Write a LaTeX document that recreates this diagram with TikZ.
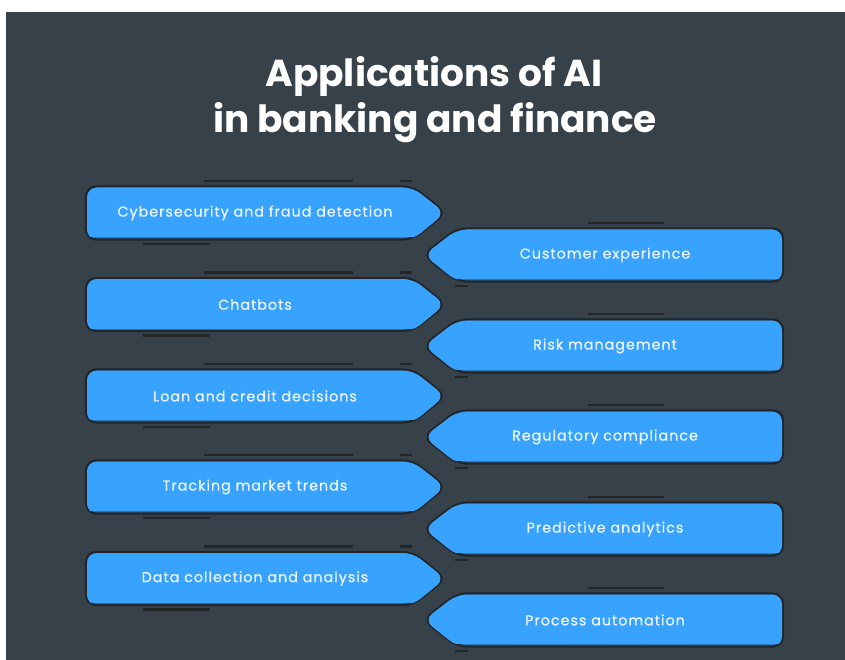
\documentclass[tikz,border=0pt]{standalone}
\usepackage{fontspec}
\setmainfont{Poppins}
\newfontfamily\boxfont[LetterSpace=7,FakeBold=0.6]{Poppins}
\definecolor{bgc}{RGB}{54,65,74}
\definecolor{bluec}{RGB}{56,162,255}
\definecolor{bluedk}{RGB}{44,118,186}
\definecolor{outc}{RGB}{34,38,41}
\definecolor{txtc}{RGB}{236,245,255}
\tikzset{
  boxout/.style={draw=outc, line width=2.2pt, fill=bluedk, line join=round},
  boxin/.style={fill=bluec},
  deco/.style={draw=outc, line width=2.8pt},
  boxtext/.style={font=\boxfont\fontsize{14.3}{16}\selectfont, text=txtc, inner sep=0pt},
  titletext/.style={font=\fontsize{37.5}{42}\selectfont\bfseries, text=white, inner sep=0pt, anchor=base}
}
% left box: #1 name, #2 centre y, #3 text
\newcommand\leftbox[3]{%
  \path[boxout, rounded corners=10pt] (413,{#2-26.5}) -- (86,{#2-26.5}) -- (86,{#2+26.5}) -- (413,{#2+26.5}) -- (446,#2) -- cycle;
  \begin{scope}
    \clip (80,{#2-30}) rectangle (450,{#2+23.5});
    \path[boxin, rounded corners=10pt] (413,{#2-25.5}) -- (87,{#2-25.5}) -- (87,{#2+26.5}) -- (413,{#2+26.5}) -- (445,#2) -- cycle;
  \end{scope}
  \draw[deco] (204,{#2-32}) -- (353,{#2-32});
  \draw[deco] (400,{#2-32}) -- (412,{#2-32});
  \draw[deco] (143,{#2+31}) -- (210,{#2+31});
  \node[boxtext] (#1) at (255,#2) {#3};
}
% right box
\newcommand\rightbox[3]{%
  \path[boxout, rounded corners=10pt] (457,{#2-26.5}) -- (783,{#2-26.5}) -- (783,{#2+26.5}) -- (457,{#2+26.5}) -- (423,#2) -- cycle;
  \begin{scope}
    \clip (418,{#2-30}) rectangle (790,{#2+23.5});
    \path[boxin, rounded corners=10pt] (457,{#2-25.5}) -- (782,{#2-25.5}) -- (782,{#2+26.5}) -- (457,{#2+26.5}) -- (424,#2) -- cycle;
  \end{scope}
  \draw[deco] (588,{#2-32}) -- (664,{#2-32});
  \draw[deco] (455,{#2+31}) -- (468,{#2+31});
  \node[boxtext] (#1) at (605,#2) {#3};
}
\begin{document}
\begin{tikzpicture}[x=1pt,y=-1pt]
\useasboundingbox (0,0) rectangle (845,660);
\fill[white] (0,0) rectangle (845,660);
\fill[bgc] (6,12) rectangle (845,660);
\node[titletext] (t1) at (434,87) {Applications of AI};
\node[titletext] (t2) at (435,133) {in banking and finance};
\leftbox{cyber}{213}{Cybersecurity and fraud detection}
\rightbox{cust}{255}{Customer experience}
\leftbox{chat}{304.5}{Chatbots}
\rightbox{risk}{346}{Risk management}
\leftbox{loan}{396}{Loan and credit decisions}
\rightbox{reg}{437}{Regulatory compliance}
\leftbox{track}{487}{Tracking market trends}
\rightbox{pred}{529}{Predictive analytics}
\leftbox{data}{578.5}{Data collection and analysis}
\rightbox{proc}{620}{Process automation}
\end{tikzpicture}
\end{document}
